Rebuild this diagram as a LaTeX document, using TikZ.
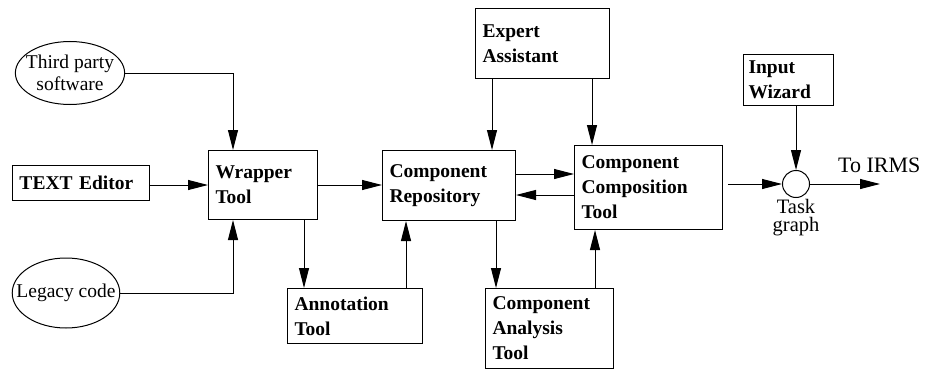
\documentclass[tikz,border=0pt]{standalone}
\usepackage{fontspec}
\setmainfont{Liberation Serif}
\usetikzlibrary{arrows.meta,shapes,positioning}

\begin{document}
\begin{tikzpicture}[x=1pt, y=-1pt, >={Triangle[length=20pt,width=10pt]},
    every node/.style={font=\fontsize{19.5}{25}\selectfont},
    tool/.style={draw, line width=1pt, anchor=north west, align=left, inner xsep=7pt,
      font=\fontsize{19.5}{25}\selectfont\bfseries},
    source/.style={draw, ellipse, line width=1pt, align=center, inner ysep=0pt},
    flow/.style={->, line width=1pt}]
    \useasboundingbox (0,0) rectangle (928,369);

    % Inputs on the left
    \node[source, inner xsep=-5.5pt, minimum height=63pt] (third) at (70,73) {Third party\\[-3pt]software};
    \node[tool, text width=123pt, minimum height=35pt] (editor) at (12,165) {TEXT Editor};
    \node[source, inner xsep=-11.5pt, minimum height=70pt] (legacy) at (66,293) {Legacy code};

    % Tools
    \node[tool, text width=95pt, minimum height=69pt] (wrapper) at (208,150) {Wrapper\\Tool};
    \node[tool, text width=121pt, minimum height=55pt] (annot) at (287,288) {Annotation\\Tool};
    \node[tool, text width=119pt, minimum height=70pt] (repo) at (382,150) {Component\\Repository};
    \node[tool, text width=120pt, minimum height=70pt] (expert) at (475,8) {Expert\\Assistant};
    \node[tool, text width=134pt, minimum height=84pt] (compo) at (574,145) {Component\\Composition\\Tool};
    \node[tool, text width=114pt, minimum height=80pt] (analysis) at (485,288) {Component\\Analysis\\Tool};
    \node[tool, text width=80pt, minimum height=51pt, inner xsep=5pt] (wizard) at (743,54) {Input\\Wizard};

    % Task graph output
    \node[draw, circle, line width=1pt, minimum size=27pt, inner sep=0pt] (task) at (796,184) {};
    \node[align=center, below=0pt of task, inner sep=1pt, font=\fontsize{20.5}{18.5}\selectfont] (tasklbl) {Task\\graph};
    \coordinate (irms) at (880,184);
    \node[anchor=base west, inner sep=0pt, font=\fontsize{22}{24}\selectfont] (irmslbl) at (838,172) {To IRMS};

    % Connectors
    \draw[flow] (third.east) -| ([xshift=25pt]wrapper.north west);
    \draw[flow] (editor.east |- wrapper.west) -- (wrapper.west);
    \draw[flow] (legacy.east) -| ([xshift=25pt]wrapper.south west);
    \draw[flow] (wrapper.east) -- (wrapper.east -| repo.west);
    \draw[flow] ([xshift=-14pt]wrapper.south east) -- ([xshift=-14pt]wrapper.south east |- annot.north);
    \draw[flow] ([xshift=24pt]repo.south west |- annot.north) -- ([xshift=24pt]repo.south west);
    \draw[flow] ([xshift=17pt]expert.south west) -- ([xshift=17pt]expert.south west |- repo.north);
    \draw[flow] ([xshift=-18pt]expert.south east) -- ([xshift=-18pt]expert.south east |- compo.north);
    \draw[flow] ([yshift=-24pt]repo.north east) -- ([yshift=-24pt]repo.north east -| compo.west);
    \draw[flow] ([yshift=-50pt]compo.north west) -- ([yshift=-50pt]compo.north west -| repo.east);
    \draw[flow] ([xshift=-20pt]repo.south east) -- ([xshift=-20pt]repo.south east |- analysis.north);
    \draw[flow] ([xshift=-19pt]analysis.north east) -- ([xshift=-19pt]analysis.north east |- compo.south);
    \draw[flow] (task.north |- wizard.south) -- (task.north);
    \draw[flow] ([xshift=5pt]task.west -| compo.east) -- (task.west);
    \draw[flow] (task.east) -- (irms);
\end{tikzpicture}
\end{document}
